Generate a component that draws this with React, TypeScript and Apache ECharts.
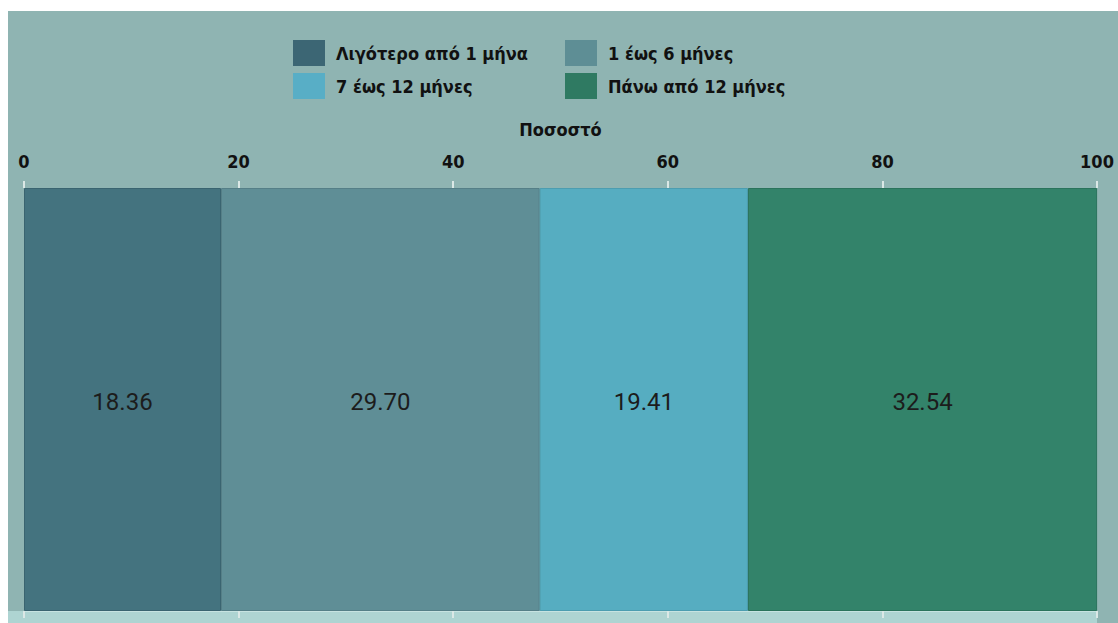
import React, { useEffect, useRef } from "react";
import * as echarts from "echarts";

const categories = ["Ποσοστό"];
const seriesNames = ["Λιγότερο από 1 μήνα", "1 έως 6 μήνες", "7 έως 12 μήνες", "Πάνω από 12 μήνες"];
const seriesValues = [18.36, 29.70, 19.41, 32.54];
const seriesColors = ["#44737f", "#5f8e96", "#56adc1", "#33836a"];
const borderColors = ["#3a6470", "#557f87", "#4c9db0", "#2b735c"];
const legendColors = ["#3c6674", "#5e8e95", "#58aec6", "#2f7a62"];
const tickValues = [0, 20, 40, 60, 80, 100];

const FONT = "DejaVu Sans Condensed";

export default function App() {
  const ref = useRef<HTMLDivElement>(null);
  useEffect(() => {
    if (!ref.current) return;
    const chart = echarts.init(ref.current, undefined, { renderer: "svg" });
    const series = seriesNames.map((name, i) => ({
      name,
      type: "bar",
      stack: "total",
      barWidth: "100%",
      data: [{ value: seriesValues[i], itemStyle: { color: seriesColors[i] } }],
      itemStyle: { color: legendColors[i], borderColor: borderColors[i], borderWidth: 1 },
      label: {
        show: true,
        position: "inside",
        formatter: (p: any) => Number(p.value).toFixed(2),
        fontFamily: "Roboto",
        fontSize: 24,
        color: "#1c1c1c",
        offset: [0, 2],
      },
    }));
    const axisCommon = {
      type: "value",
      min: tickValues[0],
      max: tickValues[tickValues.length - 1],
      interval: 20,
      splitLine: { show: false },
    };
    const legendText = {
      fontFamily: FONT,
      fontSize: 18,
      fontWeight: "bold",
      color: "#111",
      padding: [0, 0, 0, 6],
    };
    chart.setOption({
      animation: false,
      backgroundColor: "#8fb4b2",
      textStyle: { fontFamily: FONT },
      graphic: [
        {
          type: "rect",
          left: 0,
          bottom: 0,
          shape: { width: 1089, height: 12 },
          style: { fill: "#aed4d2" },
          z: -1,
        },
      ],
      legend: [
        {
          orient: "vertical",
          left: 285,
          top: 29,
          padding: 0,
          icon: "rect",
          itemWidth: 32,
          itemHeight: 26,
          itemGap: 7,
          data: [seriesNames[0], seriesNames[2]],
          textStyle: legendText,
          itemStyle: { borderWidth: 0 },
        },
        {
          orient: "vertical",
          left: 557,
          top: 29,
          padding: 0,
          icon: "rect",
          itemWidth: 32,
          itemHeight: 26,
          itemGap: 7,
          data: [seriesNames[1], seriesNames[3]],
          textStyle: legendText,
          itemStyle: { borderWidth: 0 },
        },
      ],
      grid: { left: 16, right: 21, top: 177, bottom: 12 },
      xAxis: [
        {
          ...axisCommon,
          position: "top",
          name: "Ποσοστό",
          nameLocation: "middle",
          nameGap: 50,
          nameTextStyle: { fontFamily: FONT, fontSize: 18, fontWeight: "bold", color: "#111" },
          axisLine: { show: false },
          axisTick: { show: true, length: 7, lineStyle: { color: "#dbe8e6", width: 2 } },
          axisLabel: { margin: 18, fontFamily: FONT, fontSize: 18, fontWeight: "bold", color: "#111" },
        },
        {
          ...axisCommon,
          position: "bottom",
          axisLine: { show: true, lineStyle: { color: "#c7e3e1", width: 1 } },
          axisTick: { show: true, length: 7, lineStyle: { color: "#dbe8e6", width: 2 } },
          axisLabel: { show: false },
        },
      ],
      yAxis: {
        type: "category",
        data: categories,
        show: false,
      },
      series,
    });
    return () => chart.dispose();
  }, []);
  return (
    <div
      ref={ref}
      style={{ position: "fixed", left: 8, top: 11, width: 1110, height: 612 }}
    />
  );
}
